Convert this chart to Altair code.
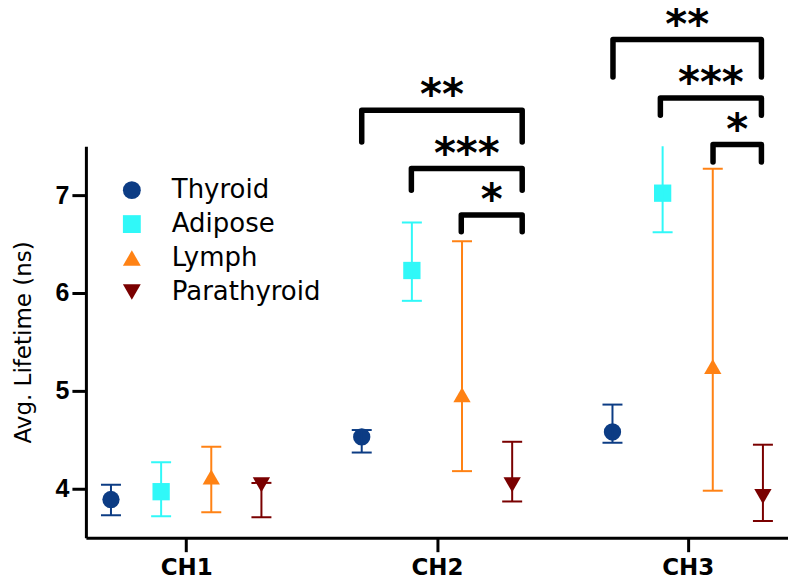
import altair as alt
import pandas as pd

# ---------------- data ----------------
channels = ["CH1", "CH2", "CH3"]
series = ["Thyroid", "Adipose", "Lymph", "Parathyroid"]
colors = ["#0c3c84", "#30f8f8", "#ff8214", "#7a0000"]
shapes = ["circle", "square", "triangle-up", "triangle-down"]

thyroid_mean = [3.89, 4.53, 4.58]
thyroid_low = [3.73, 4.37, 4.47]
thyroid_high = [4.04, 4.60, 4.86]

adipose_mean = [3.97, 6.23, 7.02]
adipose_low = [3.72, 5.92, 6.62]
adipose_high = [4.27, 6.72, 7.62]

lymph_mean = [4.12, 4.96, 5.25]
lymph_low = [3.76, 4.18, 3.98]
lymph_high = [4.43, 6.53, 7.27]

para_mean = [4.04, 4.04, 3.92]
para_low = [3.71, 3.87, 3.67]
para_high = [4.06, 4.48, 4.45]

# significance brackets (axis units)
bracket_label = ["**", "***", "*", "**", "***", "*"]
bracket_x1 = [1.700, 1.898, 2.097, 2.702, 2.891, 3.101]
bracket_x2 = [2.340, 2.340, 2.340, 3.294, 3.294, 3.294]
bracket_top = [7.867, 7.272, 6.796, 8.589, 7.993, 7.517]
bracket_leg = [7.544, 7.051, 6.626, 8.207, 7.816, 7.339]

# ---------------- tables ----------------
means = [thyroid_mean, adipose_mean, lymph_mean, para_mean]
lows = [thyroid_low, adipose_low, lymph_low, para_low]
highs = [thyroid_high, adipose_high, lymph_high, para_high]

rows = []
for si, name in enumerate(series):
    for ci, ch in enumerate(channels):
        rows.append({
            "series": name,
            "channel": ch,
            "pos": ci + 1 + (si - 1.5) * 0.2,
            "mean": means[si][ci],
            "low": lows[si][ci],
            "high": highs[si][ci],
        })
df = pd.DataFrame(rows)

path_rows = []
for bi in range(len(bracket_label)):
    pts = [(bracket_x1[bi], bracket_leg[bi]), (bracket_x1[bi], bracket_top[bi]),
           (bracket_x2[bi], bracket_top[bi]), (bracket_x2[bi], bracket_leg[bi])]
    for k, (xx, yy) in enumerate(pts):
        path_rows.append({"bid": bi, "k": k, "bx": xx, "by": yy})
bpath = pd.DataFrame(path_rows)

blab = pd.DataFrame({
    "label": bracket_label,
    "bx": [(a + b) / 2 for a, b in zip(bracket_x1, bracket_x2)],
    "by": bracket_top,
})

label_expr = "[" + ",".join("'%s'" % c for c in channels) + "][datum.value - 1]"

xscale = alt.Scale(domain=[0.6, 3.4], nice=False, zero=False)
yscale = alt.Scale(domain=[3.5, 7.5], nice=False, zero=False)

xaxis = alt.Axis(values=[1, 2, 3], labelExpr=label_expr, title=None, grid=False,
                 labelFont="DejaVu Sans", labelFontSize=23, labelFontWeight="bold",
                 labelPadding=5, tickSize=14, domainColor="black", domainWidth=3,
                 tickColor="black", tickWidth=3, labelColor="black")
yaxis = alt.Axis(values=[4, 5, 6, 7], format="d", title="Avg. Lifetime (ns)", grid=False,
                 titleFont="DejaVu Sans", titleFontSize=23, titleFontWeight="normal",
                 titlePadding=20, titleColor="black",
                 labelFont="Liberation Sans", labelFontSize=25, labelFontWeight="bold",
                 labelPadding=3, tickSize=14, domainColor="black", domainWidth=3,
                 tickColor="black", tickWidth=3, labelColor="black")

color_scale = alt.Scale(domain=series, range=colors)
shape_scale = alt.Scale(domain=series, range=shapes)

legend_cfg = dict(orient="none", legendX=33, legendY=31, title=None,
                  labelFont="DejaVu Sans", labelFontSize=26,
                  labelColor="black", symbolSize=320,
                  rowPadding=8, labelOffset=27, padding=0,
                  symbolStrokeWidth=0, symbolOpacity=1)

base = alt.Chart(df)

bars = base.mark_rule(strokeWidth=2, clip=True).encode(
    x=alt.X("pos:Q", scale=xscale, axis=xaxis),
    y=alt.Y("low:Q", scale=yscale, axis=yaxis),
    y2="high:Q",
    color=alt.Color("series:N", scale=color_scale, legend=alt.Legend(**legend_cfg)),
)

caps_hi = base.mark_tick(orient="horizontal", size=20, thickness=2, opacity=1, clip=True).encode(
    x=alt.X("pos:Q", scale=xscale),
    y=alt.Y("high:Q", scale=yscale),
    color=alt.Color("series:N", scale=color_scale, legend=alt.Legend(**legend_cfg)),
)
caps_lo = base.mark_tick(orient="horizontal", size=20, thickness=2, opacity=1, clip=True).encode(
    x=alt.X("pos:Q", scale=xscale),
    y=alt.Y("low:Q", scale=yscale),
    color=alt.Color("series:N", scale=color_scale, legend=alt.Legend(**legend_cfg)),
)

points = base.mark_point(filled=True, size=300, opacity=1, strokeWidth=0).encode(
    x=alt.X("pos:Q", scale=xscale),
    y=alt.Y("mean:Q", scale=yscale),
    color=alt.Color("series:N", scale=color_scale, legend=alt.Legend(**legend_cfg)),
    shape=alt.Shape("series:N", scale=shape_scale, legend=alt.Legend(**legend_cfg)),
)

brackets = alt.Chart(bpath).mark_line(color="black", strokeWidth=5.5,
                                      strokeCap="round", strokeJoin="round").encode(
    x=alt.X("bx:Q", scale=xscale),
    y=alt.Y("by:Q", scale=yscale),
    detail="bid:N",
    order="k:Q",
)

stars = alt.Chart(blab).mark_text(font="DejaVu Sans", fontSize=42, fontWeight="bold",
                                  baseline="alphabetic", align="center", dy=-1,
                                  color="black").encode(
    x=alt.X("bx:Q", scale=xscale),
    y=alt.Y("by:Q", scale=yscale),
    text="label:N",
)

chart = alt.layer(points, bars, caps_hi, caps_lo, brackets, stars).properties(
    width=703,
    height=392,
    background="white",
    autosize=alt.AutoSizeParams(type="none"),
    padding={"left": 78, "top": 138, "right": 0, "bottom": 44},
).configure_view(stroke=None)

chart.save("out.html", embed_options={"renderer": "svg", "actions": False})
